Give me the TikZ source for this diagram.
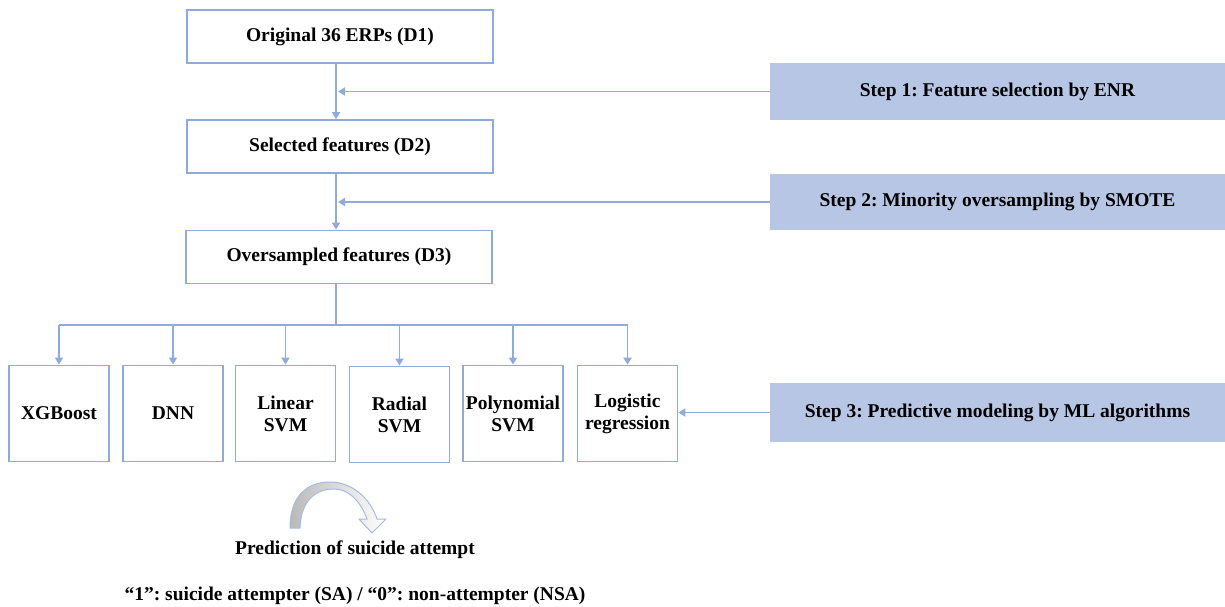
\documentclass[tikz,border=0pt]{standalone}
\usepackage{fontspec}
\setmainfont{Liberation Serif}
\usetikzlibrary{arrows.meta}
\definecolor{lc}{RGB}{143,170,220}
\definecolor{sf}{RGB}{183,198,228}
\frenchspacing
\begin{document}
\begin{tikzpicture}[x=1pt,y=-1pt,
  txt/.style={font=\frenchspacing\bfseries\fontsize{19.5}{22}\selectfont},
  box/.style={txt,draw=lc,line width=1.8pt,fill=white,inner sep=0pt,align=center},
  topbox/.style={box,minimum width=306pt,minimum height=53pt},
  algbox/.style={box,minimum width=100pt,minimum height=96pt},
  stepbox/.style={txt,fill=sf,inner sep=0pt,minimum width=455pt},
  conn/.style={draw=lc,line width=1.7pt},
  arr/.style={conn,-{Triangle[width=8pt,length=7pt]}}]
\useasboundingbox (0,0) rectangle (1225,607);
% main column
\node[topbox] (d1) at (340,36.5) {Original 36 ERPs (D1)};
\node[topbox] (d2) at (340,146.5) {Selected features (D2)};
\node[topbox] (d3) at (339,257) {Oversampled features (D3)};
% step boxes
\node[stepbox,minimum height=57pt] (s1) at (997.5,91.5) {Step 1: Feature selection by ENR};
\node[stepbox,minimum height=56pt] (s2) at (997.5,202) {Step 2: Minority oversampling by SMOTE};
\node[stepbox,minimum height=59pt] (s3) at (997.5,412.5) {Step 3: Predictive modeling by ML algorithms};
% algorithm boxes
\node[algbox] (b1) at (59,413.5) {XGBoost};
\node[algbox] (b2) at (173,413.5) {DNN};
\node[algbox] (b3) at (285.5,413.5) {Linear\\SVM};
\node[algbox] (b4) at (399.5,414.5) {Radial\\SVM};
\node[algbox] (b5) at (513,413.5) {Polynomial\\SVM};
\node[algbox] (b6) at (627.5,413.5) {Logistic\\regression};
% connectors
\coordinate (v) at (336,0);
\coordinate (j1) at (338,91.5);
\coordinate (j2) at (338,202);
\coordinate (bus) at (336,325);
\draw[arr] (d1.south -| v) -- (d2.north -| v);
\draw[arr] (d2.south -| v) -- (d3.north -| v);
\draw[arr] (s1.west) -- (j1);
\draw[arr] (s2.west) -- (j2);
\draw[conn] (d3.south -| v) -- (bus);
\draw[conn] (b1.north |- bus) -- (b6.north |- bus);
\foreach \b in {b1,b2,b3,b4,b5,b6} \draw[arr] (\b.north |- bus) -- (\b.north);
\draw[arr] (s3.west) -- (s3.west -| b6.east);
% curved arrow
\shadedraw[left color=gray!55, right color=white, draw=lc!80, line width=1pt]
  (290,528) .. controls (290,495) and (308,482) .. (330,482)
  .. controls (352,482) and (370,498) .. (377,519) -- (386,519) -- (372,533) -- (359,519) -- (367,519)
  .. controls (360,500) and (348,489) .. (334,489)
  .. controls (316,489) and (301,500) .. (300,528) -- cycle;
\node[txt] (pred) at (355,550) {Prediction of suicide attempt};
\node[txt] (lab) at (355,596) {“1”: suicide attempter (SA) / “0”: non-attempter (NSA)};
\end{tikzpicture}
\end{document}
